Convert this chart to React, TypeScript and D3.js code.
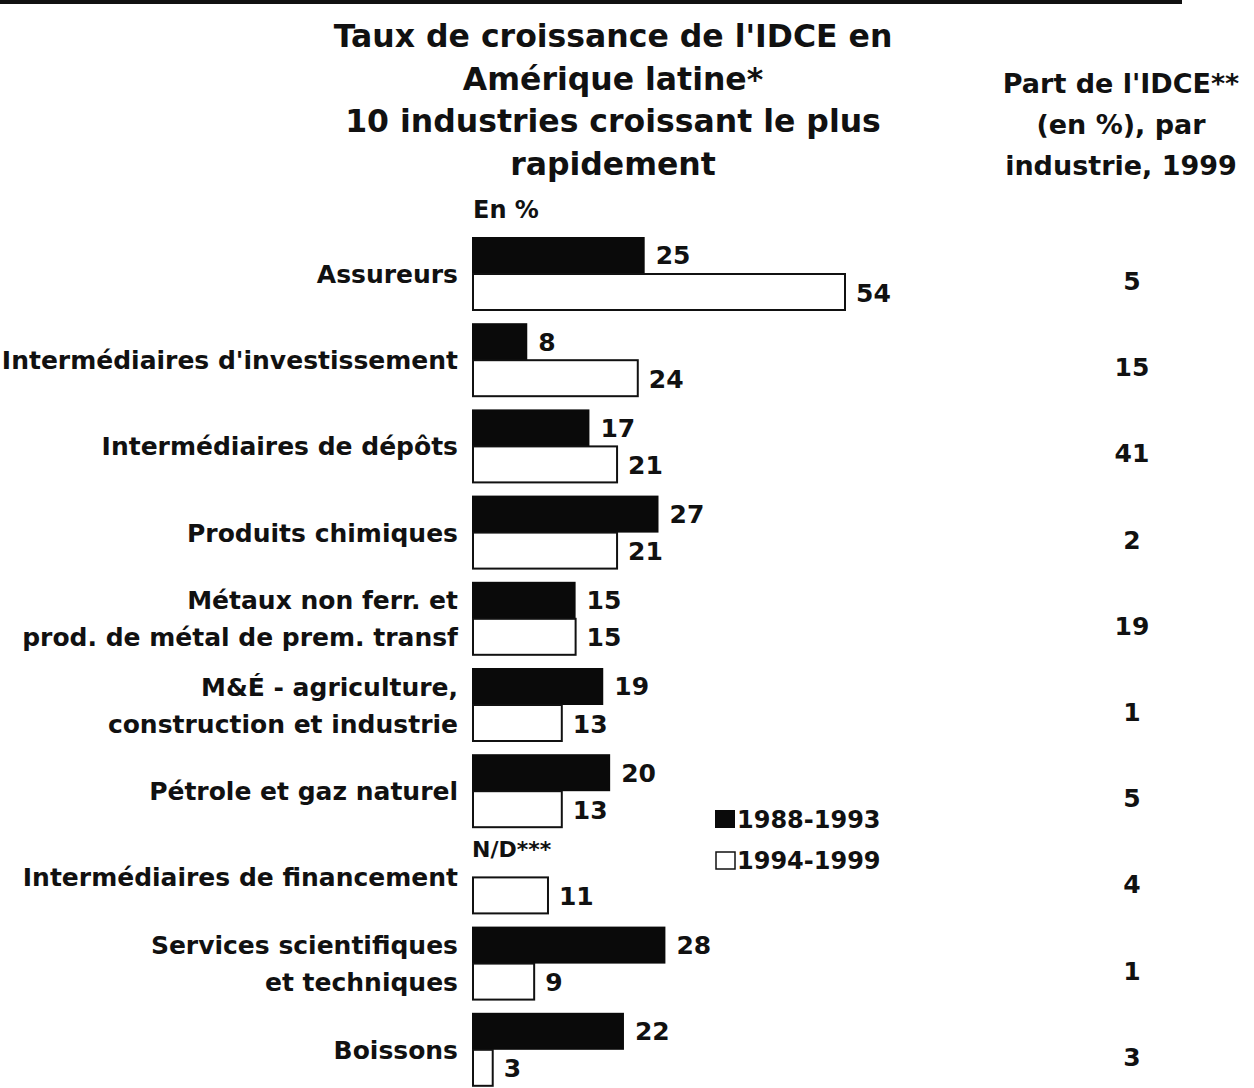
import React from "react";
import * as d3 from "d3";

const categories = [
  ["Assureurs"],
  ["Intermédiaires d'investissement"],
  ["Intermédiaires de dépôts"],
  ["Produits chimiques"],
  ["Métaux non ferr. et", "prod. de métal de prem. transf"],
  ["M&É - agriculture,", "construction et industrie"],
  ["Pétrole et gaz naturel"],
  ["Intermédiaires de financement"],
  ["Services scientifiques", "et techniques"],
  ["Boissons"],
];
const series = ["1988-1993", "1994-1999"];
const growth8893: (number | null)[] = [25, 8, 17, 27, 15, 19, 20, null, 28, 22];
const growth9499: number[] = [54, 24, 21, 21, 15, 13, 13, 11, 9, 3];
const share1999: number[] = [5, 15, 41, 2, 19, 1, 5, 4, 1, 3];
const titleLines = [
  "Taux de croissance de l'IDCE en",
  "Amérique latine*",
  "10 industries croissant le plus",
  "rapidement",
];
const shareTitleLines = ["Part de l'IDCE**", "(en %), par", "industrie, 1999"];

const FONT = "'DejaVu Sans', 'Liberation Sans', Arial, sans-serif";

export default function App() {
  const W = 1254;
  const H = 1088;
  const ids = categories.map((_, i) => String(i));
  const y = d3
    .scaleBand<string>()
    .domain(ids)
    .range([230.9, 1092.9])
    .paddingInner(0.1415)
    .paddingOuter(0.07075);
  const sub = d3.scaleBand<string>().domain(series).range([0, y.bandwidth()]);
  const x = d3.scaleLinear().domain([0, 54]).range([472, 845]);
  const labelX = 458;
  const shareX = 1132;

  return (
    <svg
      width={W}
      height={H}
      style={{ position: "absolute", left: 0, top: 0, background: "#fff" }}
      fontFamily={FONT}
      fontWeight="bold"
    >
      <rect x={0} y={0} width={W} height={H} fill="#fff" />
      <rect x={0} y={0} width={1182} height={4} fill="#111" />
      {titleLines.map((t, i) => (
        <text key={t} x={613} y={47 + i * 42.5} fontSize={31.5} textAnchor="middle" fill="#111">
          {t}
        </text>
      ))}
      <text x={473} y={218} fontSize={24} fill="#111">En %</text>
      {shareTitleLines.map((t, i) => (
        <text key={t} x={1121} y={93 + i * 41} fontSize={27} textAnchor="middle" fill="#111">
          {t}
        </text>
      ))}

      {categories.map((lines, i) => {
        const g = y(String(i))!;
        const cy = g + y.bandwidth() / 2;
        const d = growth8893[i];
        const w = growth9499[i];
        const y1 = g + sub(series[0])!;
        const y2 = g + sub(series[1])!;
        const bh = sub.bandwidth();
        return (
          <g key={i}>
            {lines.map((l, j) => (
              <text
                key={l}
                x={labelX}
                y={cy + (j - (lines.length - 1) / 2) * 37 + 9}
                fontSize={25}
                textAnchor="end"
                fill="#111"
              >
                {l}
              </text>
            ))}
            {d !== null ? (
              <>
                <rect x={x(0)} y={y1} width={x(d) - x(0)} height={bh} fill="#0a0a0a" />
                <text x={x(d) + 11} y={y1 + bh / 2 + 9} fontSize={25} fill="#111">
                  {d}
                </text>
              </>
            ) : (
              <text x={x(0)} y={y1 + bh / 2 - 2} fontSize={22} fill="#111">
                N/D***
              </text>
            )}
            <rect
              x={x(0) + 1}
              y={y2}
              width={x(w) - x(0) - 1}
              height={bh - 1}
              fill="#fff"
              stroke="#111"
              strokeWidth={2}
            />
            <text x={x(w) + 11} y={y2 + bh / 2 + 9} fontSize={25} fill="#111">
              {w}
            </text>
            <text x={shareX} y={cy + 16} fontSize={25} textAnchor="middle" fill="#111">
              {share1999[i]}
            </text>
          </g>
        );
      })}

      <g>
        <rect x={715} y={810} width={20} height={18} fill="#0a0a0a" />
        <text x={737} y={828} fontSize={24} fill="#111">{series[0]}</text>
        <rect x={716} y={852} width={19} height={17} fill="#fff" stroke="#111" strokeWidth={1.5} />
        <text x={737} y={869} fontSize={24} fill="#111">{series[1]}</text>
      </g>
    </svg>
  );
}
